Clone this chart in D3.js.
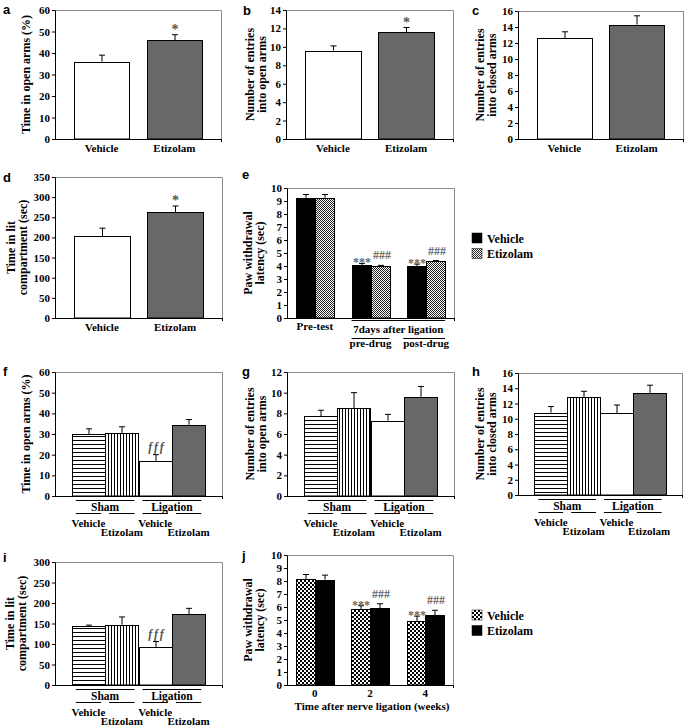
<!DOCTYPE html>
<html><head><meta charset="utf-8">
<script src="https://cdn.jsdelivr.net/npm/d3@7"></script>
<style>
body{margin:0;background:#fff}
svg text{font-family:"Liberation Serif","Times New Roman",serif;font-weight:bold;fill:#000}
</style></head><body>
<svg id="c" width="685" height="726"></svg>
<script>
// ---------------- data ----------------
const twoCats = ["Vehicle", "Etizolam"];
const aMean = [36, 46],   aSem = [3, 2.5],  aSig = ["", "*"];
const bMean = [9.6, 11.6], bSem = [0.5, 0.5], bSig = ["", "*"];
const cMean = [12.6, 14.3], cSem = [0.8, 1.1], cSig = ["", ""];
const dMean = [203, 263], dSem = [20, 15], dSig = ["", "*"];
const aTicks = [0, 10, 20, 30, 40, 50, 60];
const bTicks = [0, 2, 4, 6, 8, 10, 12, 14];
const cTicks = [0, 2, 4, 6, 8, 10, 12, 14, 16];
const dTicks = [0, 50, 100, 150, 200, 250, 300, 350];

const eGroups = ["Pre-test", "pre-drug", "post-drug"];
const eVehicle = [9.25, 4.05, 4.0], eVehicleSem = [0.25, 0.15, 0.15];
const eEtizolam = [9.25, 4.0, 4.35], eEtizolamSem = [0.25, 0.05, 0.07];
const eVehSig = ["", "***", "***"], eEtzSig = ["", "###", "###"];
const eTicks = [0, 1, 2, 3, 4, 5, 6, 7, 8, 9, 10];
const eSpanLabel = "7days after ligation";

const shamLigation = ["Sham", "Ligation"];
const fourBars = ["Vehicle", "Etizolam", "Vehicle", "Etizolam"];
const fMean = [30, 30.5, 17, 34.5], fSem = [2.5, 3, 3, 2.5], fSig = ["", "", "fff", ""];
const gMean = [7.7, 8.5, 7.3, 9.6], gSem = [0.6, 1.5, 0.6, 1.0], gSig = ["", "", "", ""];
const hMean = [10.8, 12.8, 10.7, 13.4], hSem = [0.8, 0.8, 1.1, 1.0], hSig = ["", "", "", ""];
const iMean = [143, 147, 93, 173], iSem = [3, 19, 13, 14], iSig = ["", "", "fff", ""];
const fTicks = [0, 10, 20, 30, 40, 50, 60];
const gTicks = [0, 2, 4, 6, 8, 10, 12];
const hTicks = [0, 2, 4, 6, 8, 10, 12, 14, 16];
const iTicks = [0, 50, 100, 150, 200, 250, 300];

const jWeeks = ["0", "2", "4"];
const jVehicle = [8.15, 5.85, 4.9], jVehicleSem = [0.35, 0.25, 0.4];
const jEtizolam = [8.1, 5.9, 5.35], jEtizolamSem = [0.35, 0.35, 0.4];
const jVehSig = ["", "***", "***"], jEtzSig = ["", "###", "###"];
const jTicks = [0, 1, 2, 3, 4, 5, 6, 7, 8, 9, 10];
const jXTitle = "Time after nerve ligation (weeks)";

// ---------------- drawing ----------------
const svg = d3.select("#c");
const defs = svg.append("defs");
const SERIF = "'Liberation Serif','Times New Roman',serif";
const DARK = "#686868";

function pat(id, w, h, build) {
  const p = defs.append("pattern").attr("id", id).attr("patternUnits", "userSpaceOnUse")
    .attr("width", w).attr("height", h);
  p.append("rect").attr("width", w).attr("height", h).attr("fill", "#fff");
  build(p);
}
pat("hlines", 4, 4, p => p.append("rect").attr("x", 0).attr("y", 0).attr("width", 4).attr("height", 1).attr("fill", "#000"));
pat("vlines", 3, 3, p => p.append("rect").attr("x", 0).attr("y", 0).attr("width", 1).attr("height", 3).attr("fill", "#000"));
pat("fine", 2, 2, p => {
  p.append("rect").attr("x", 0).attr("y", 0).attr("width", 1).attr("height", 1).attr("fill", "#222");
  p.append("rect").attr("x", 1).attr("y", 1).attr("width", 1).attr("height", 1).attr("fill", "#222");
});
pat("check", 4, 4, p => {
  p.append("rect").attr("x", 0).attr("y", 0).attr("width", 2).attr("height", 2).attr("fill", "#000");
  p.append("rect").attr("x", 2).attr("y", 2).attr("width", 2).attr("height", 2).attr("fill", "#000");
});

function panel(L) {
  const y = d3.scaleLinear().domain([0, d3.max(L.ticks)]).range([L.bottom, L.top]);
  const g = svg.append("g");
  g.append("path").attr("d", `M${L.x0},${L.top + 0.5}H${L.x1 + 0.5}V${L.bottom}`)
    .attr("fill", "none").attr("stroke", "#8a8a8a");
  L.g = g; L.y = y;
  return L;
}
function finish(L) {
  const g = L.g, y = L.y;
  const ax = g.append("g").attr("transform", `translate(${L.x0},0)`)
    .call(d3.axisLeft(y).tickValues(L.ticks).tickSize(3).tickPadding(2).tickSizeOuter(0));
  ax.attr("font-family", SERIF).attr("font-size", 11);
  ax.select(".domain").attr("stroke", "#000");
  ax.selectAll(".tick line").attr("stroke", "#000");
  ax.selectAll(".tick text").attr("fill", "#000").attr("font-weight", "bold");
  g.append("path").attr("d", `M${L.x0},${L.bottom + 0.5}H${L.x1 + 0.5}M${L.x1 + 0.5},${L.bottom}v3`)
    .attr("stroke", "#000").attr("fill", "none");
  svg.append("text").attr("x", L.lx).attr("y", L.ly).text(L.letter)
    .style("font-family", "'Liberation Sans',Arial,sans-serif").attr("font-size", 13);
  const mid = (L.top + L.bottom) / 2;
  L.title.forEach((t, i) => g.append("text")
    .attr("transform", `translate(${L.tx[i]},${mid}) rotate(-90)`)
    .attr("text-anchor", "middle").attr("font-size", 12).text(t));
}
function bar(g, y, x, w, v, s, fill, bottom) {
  const x0 = Math.round(x) + 0.5, w0 = Math.round(w);
  const cx = x0 + w0 / 2;
  g.append("line").attr("x1", cx).attr("x2", cx).attr("y1", y(v)).attr("y2", y(v + s)).attr("stroke", "#000");
  g.append("line").attr("x1", cx - 3).attr("x2", cx + 3).attr("y1", y(v + s)).attr("y2", y(v + s)).attr("stroke", "#000");
  g.append("rect").attr("x", x0).attr("y", Math.round(y(v)) + 0.5).attr("width", w0)
    .attr("height", bottom - Math.round(y(v)) - 0.5).attr("fill", fill).attr("stroke", "#000");
  return cx;
}

// ---- two-bar panels a-d ----
function twoBar(L, mean, sem, sig) {
  panel(L);
  const x = d3.scaleBand().domain(twoCats).range([L.x0, L.x1]).paddingInner(0.24).paddingOuter(0.26);
  const fills = ["#fff", DARK];
  twoCats.forEach((c, i) => {
    const cx = bar(L.g, L.y, x(c), x.bandwidth(), mean[i], sem[i], fills[i], L.bottom);
    if (sig[i]) L.g.append("text").attr("x", cx).attr("y", L.y(mean[i] + sem[i]) - 1)
      .attr("text-anchor", "middle").attr("font-size", 14).attr("font-weight", "normal").style("fill", "#555").text(sig[i]);
    L.g.append("text").attr("x", x(c) + x.bandwidth() / 2).attr("y", L.bottom + 13)
      .attr("text-anchor", "middle").attr("font-size", 11).text(c);
  });
  finish(L);
}
twoBar({x0: 55, x1: 221, top: 10, bottom: 139, ticks: aTicks, letter: "a", lx: 3, ly: 14,
  title: ["Time in open arms (%)"], tx: [30]}, aMean, aSem, aSig);
twoBar({x0: 286, x1: 453, top: 10, bottom: 139, ticks: bTicks, letter: "b", lx: 243, ly: 15,
  title: ["Number of entries", "into open arms"], tx: [254, 266]}, bMean, bSem, bSig);
twoBar({x0: 518, x1: 683, top: 11, bottom: 139, ticks: cTicks, letter: "c", lx: 472, ly: 15,
  title: ["Number of entries", "into closed arms"], tx: [484, 496]}, cMean, cSem, cSig);
twoBar({x0: 55, x1: 222, top: 177, bottom: 318, ticks: dTicks, letter: "d", lx: 3, ly: 182,
  title: ["Time in lit", "compartment (sec)"], tx: [15, 27]}, dMean, dSem, dSig);

// ---- grouped panels e, j ----
function grouped(L, groups, s1, s1e, s2, s2e, sig1, sig2, fills, legend) {
  panel(L);
  const x = d3.scaleBand().domain(groups).range([L.x0, L.x1]).paddingInner(0.32).paddingOuter(0.16);
  const xi = d3.scaleBand().domain([0, 1]).range([0, x.bandwidth()]);
  groups.forEach((gname, i) => {
    const c1 = bar(L.g, L.y, x(gname) + xi(0), xi.bandwidth(), s1[i], s1e[i], fills[0], L.bottom);
    const c2 = bar(L.g, L.y, x(gname) + xi(1), xi.bandwidth(), s2[i], s2e[i], fills[1], L.bottom);
    if (sig1[i]) L.g.append("text").attr("x", c1).attr("y", L.y(s1[i] + s1e[i]) + 3).attr("text-anchor", "middle")
      .attr("font-size", 12).attr("font-weight", "normal").style("fill", "#666").text(sig1[i]);
    if (sig2[i]) L.g.append("text").attr("x", c2 + 1).attr("y", L.y(s2[i] + s2e[i]) - 6).attr("text-anchor", "middle")
      .attr("font-size", 12).attr("font-weight", "normal").style("fill", "#666").text(sig2[i]);
  });
  legend.forEach((name, k) => {
    svg.append("rect").attr("x", 472).attr("y", L.legY + k * 15.5).attr("width", 10).attr("height", 10)
      .attr("fill", fills[k]).attr("stroke", "#000").attr("stroke-width", 0.5);
    svg.append("text").attr("x", 487).attr("y", L.legY + 9.5 + k * 15.5).attr("font-size", 12).text(name);
  });
  finish(L);
  return x;
}
const LE = {x0: 287, x1: 454, top: 188, bottom: 318, ticks: eTicks, letter: "e", lx: 242, ly: 179,
  title: ["Paw withdrawal", "latency (sec)"], tx: [252, 263.5], legY: 233};
const xe = grouped(LE, eGroups, eVehicle, eVehicleSem, eEtizolam, eEtizolamSem, eVehSig, eEtzSig,
  ["#000", "url(#fine)"], twoCats);
{
  const g = LE.g, b = LE.bottom;
  g.append("text").attr("x", xe(eGroups[0]) + xe.bandwidth() / 2).attr("y", b + 12).attr("text-anchor", "middle").attr("font-size", 11).text(eGroups[0]);
  const l = xe(eGroups[1]), r = xe(eGroups[2]) + xe.bandwidth();
  g.append("line").attr("x1", l).attr("x2", r).attr("y1", b + 2.5).attr("y2", b + 2.5).attr("stroke", "#000");
  g.append("text").attr("x", (l + r) / 2).attr("y", b + 15).attr("text-anchor", "middle").attr("font-size", 11).text(eSpanLabel);
  [1, 2].forEach(k => {
    const gl = xe(eGroups[k]);
    g.append("line").attr("x1", gl - (k === 2 ? 4 : 0)).attr("x2", gl + xe.bandwidth()).attr("y1", b + 20.5).attr("y2", b + 20.5).attr("stroke", "#000");
    g.append("text").attr("x", gl + xe.bandwidth() / 2).attr("y", b + 29).attr("text-anchor", "middle").attr("font-size", 11).text(eGroups[k]);
  });
}
const LJ = {x0: 287, x1: 453, top: 555, bottom: 685, ticks: jTicks, letter: "j", lx: 242, ly: 560,
  title: ["Paw withdrawal", "latency (sec)"], tx: [252, 263.5], legY: 610};
const xj = grouped(LJ, jWeeks, jVehicle, jVehicleSem, jEtizolam, jEtizolamSem, jVehSig, jEtzSig,
  ["url(#check)", "#000"], twoCats);
jWeeks.forEach(w => LJ.g.append("text").attr("x", xj(w) + xj.bandwidth() / 2).attr("y", LJ.bottom + 12)
  .attr("text-anchor", "middle").attr("font-size", 11).text(w));
LJ.g.append("text").attr("x", (LJ.x0 + LJ.x1) / 2 + 2).attr("y", LJ.bottom + 25).attr("text-anchor", "middle")
  .attr("font-size", 11).text(jXTitle);

// ---- four-bar panels f-i ----
function fourBar(L, mean, sem, sig) {
  panel(L);
  const x = d3.scaleBand().domain([0, 1, 2, 3]).range([L.x0, L.x1]).paddingInner(0).paddingOuter(0.5);
  const fills = ["url(#hlines)", "url(#vlines)", "#fff", DARK];
  const bw = x.bandwidth(), b = L.bottom;
  fourBars.forEach((name, i) => {
    const cx = bar(L.g, L.y, x(i), bw, mean[i], sem[i], fills[i], b);
    if (sig[i]) L.g.append("text").attr("x", cx + 1).attr("y", L.y(mean[i] + sem[i]) - 4).attr("text-anchor", "middle")
      .attr("font-size", 12).attr("font-style", "italic").attr("font-weight", "normal").attr("letter-spacing", 2)
      .style("fill", "#555").text(sig[i]);
    L.g.append("line").attr("x1", x(i) + 4).attr("x2", x(i) + bw - 4).attr("y1", b + 17.5).attr("y2", b + 17.5).attr("stroke", "#000");
    L.g.append("text").attr("x", x(i) + bw / 2).attr("y", b + (i % 2 === 0 ? 31 : 40)).attr("text-anchor", "middle")
      .attr("font-size", 11).text(name);
  });
  shamLigation.forEach((gn, k) => {
    const l = x(2 * k) + 4, r = x(2 * k + 1) + bw - 4;
    L.g.append("line").attr("x1", l).attr("x2", r).attr("y1", b + 4.5).attr("y2", b + 4.5).attr("stroke", "#000");
    L.g.append("text").attr("x", (l + r) / 2).attr("y", b + 15).attr("text-anchor", "middle").attr("font-size", 11.5).text(gn);
  });
  finish(L);
}
fourBar({x0: 55, x1: 222, top: 372, bottom: 496, ticks: fTicks, letter: "f", lx: 3, ly: 376,
  title: ["Time in open arms (%)"], tx: [30]}, fMean, fSem, fSig);
fourBar({x0: 287, x1: 454, top: 372, bottom: 496, ticks: gTicks, letter: "g", lx: 242, ly: 376,
  title: ["Number of entries", "into open arms"], tx: [254, 266]}, gMean, gSem, gSig);
fourBar({x0: 518, x1: 682, top: 373, bottom: 495, ticks: hTicks, letter: "h", lx: 472, ly: 376,
  title: ["Number of entries", "into closed arms"], tx: [484, 496]}, hMean, hSem, hSig);
fourBar({x0: 55, x1: 222, top: 562, bottom: 685, ticks: iTicks, letter: "i", lx: 3, ly: 562,
  title: ["Time in lit", "compartment (sec)"], tx: [14, 26]}, iMean, iSem, iSig);
</script>
</body></html>
